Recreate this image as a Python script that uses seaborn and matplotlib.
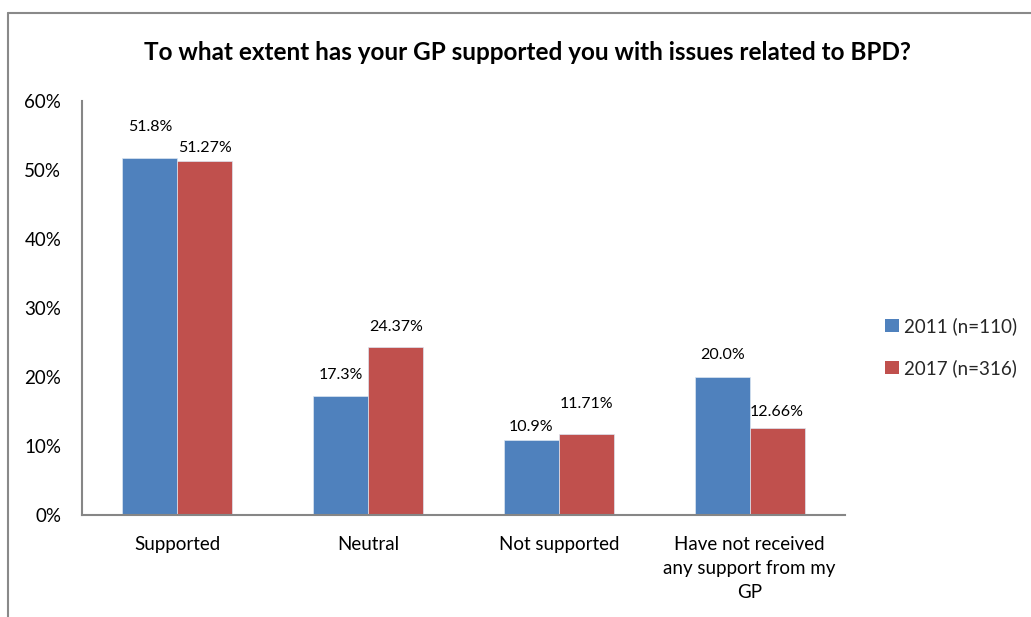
import matplotlib
matplotlib.use("Agg")
import matplotlib.pyplot as plt
from matplotlib.lines import Line2D
import seaborn as sns
import pandas as pd

# Survey responses (percent of respondents)
categories = ["Supported", "Neutral", "Not supported",
              "Have not received\nany support from my\nGP"]
series_names = ["2011 (n=110)", "2017 (n=316)"]
values_2011 = [51.8, 17.3, 10.9, 20.0]
values_2017 = [51.27, 24.37, 11.71, 12.66]
label_decimals = [1, 2]
y_ticks = [0, 10, 20, 30, 40, 50, 60]
title = "To what extent has your GP supported you with issues related to BPD?"

# Label lift above each bar top, in pixels (per series, per category)
label_lift = [[31, 21, 13, 22], [13, 20, 30, 16]]

df = pd.DataFrame({
    "category": categories * 2,
    "series": [series_names[0]] * len(categories) + [series_names[1]] * len(categories),
    "value": values_2011 + values_2017,
})

sns.set_theme(style="white")
plt.rcParams["font.family"] = ["Lato", "DejaVu Sans"]

W, H = 1031, 617
fig = plt.figure(figsize=(W / 100, H / 100), dpi=100)
ax = fig.add_axes([82 / W, 1 - 515 / H, 763 / W, 414 / H])

colors = ["#4F81BD", "#C0504D"]
sns.barplot(data=df, x="category", y="value", hue="series",
            order=categories, hue_order=series_names, palette=colors,
            width=0.577, saturation=1, edgecolor="#DCE6F2", linewidth=0.5,
            ax=ax)

ax.set_ylim(0, 60)
ax.set_yticks(y_ticks)
ax.set_yticklabels([f"{t}%" for t in y_ticks])
ax.set_xlabel("")
ax.set_ylabel("")
ax.tick_params(axis="both", which="both", length=0, labelsize=13.5,
               colors="#000000")
ax.tick_params(axis="y", pad=15)
ax.tick_params(axis="x", pad=15)
for lbl in ax.get_xticklabels():
    lbl.set_linespacing(1.5)

for side in ("top", "right"):
    ax.spines[side].set_visible(False)
for side in ("left", "bottom"):
    ax.spines[side].set_color("#868686")
    ax.spines[side].set_linewidth(1.5)

# Value labels above bars
for s_idx, container in enumerate(ax.containers):
    for c_idx, bar in enumerate(container):
        h = bar.get_height()
        x = bar.get_x() + bar.get_width() / 2
        ax.annotate(f"{h:.{label_decimals[s_idx]}f}%", (x, h),
                    xytext=(0, label_lift[s_idx][c_idx] * 0.72),
                    textcoords="offset points", ha="center", va="center",
                    fontsize=11.5, color="#000000")

leg = ax.legend(loc="center left", bbox_to_anchor=(876 / W, 1 - 347 / H),
                bbox_transform=fig.transFigure, frameon=False,
                fontsize=13.5, handlelength=0.7, handleheight=0.7,
                handletextpad=0.3, labelspacing=1.3, borderpad=0)
for handle in leg.legend_handles:
    handle.set_edgecolor("none")

fig.text(527 / W, 1 - 52 / H, title, ha="center", va="center",
         fontsize=17.5, fontweight="bold", color="#000000")

# Chart-area border (top and left edges)
border_kw = dict(color="#898989", linewidth=1.5, transform=fig.transFigure)
fig.add_artist(Line2D([8 / W, 1], [1 - 13 / H, 1 - 13 / H], **border_kw))
fig.add_artist(Line2D([8 / W, 8 / W], [1 - 13 / H, 0], **border_kw))

fig.savefig("out.png", dpi=100, facecolor="white")
